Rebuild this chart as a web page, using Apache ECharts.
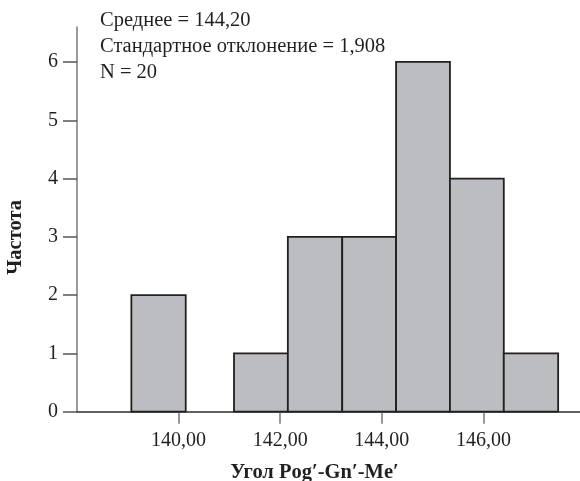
<!DOCTYPE html>
<html>
<head>
<meta charset="utf-8">
<script src="https://cdn.jsdelivr.net/npm/echarts@6/dist/echarts.min.js"></script>
<style>html,body{margin:0;padding:0;background:#fff}#c{width:580px;height:481px}</style>
</head>
<body>
<div id="c"></div>
<script>
// Histogram bins (left edge, right edge) and frequencies
const binStart = [139.07, 141.09, 142.15, 143.22, 144.28, 145.34, 146.40];
const binEnd   = [140.14, 142.15, 143.22, 144.28, 145.34, 146.40, 147.47];
const counts   = [2, 1, 3, 3, 6, 4, 1];
const xTicks   = [140, 142, 144, 146];
const statLines = ['Среднее = 144,20', 'Стандартное отклонение = 1,908', 'N = 20'];

const FONT = '"Liberation Serif", "DejaVu Serif", serif';
const chart = echarts.init(document.getElementById('c'), null, {renderer: 'canvas'});
const data = binStart.map((s, i) => [s, binEnd[i], counts[i]]);

chart.setOption({
  animation: false,
  backgroundColor: '#fff',
  grid: {left: 77, right: 0, top: 27, bottom: 69.3, containLabel: false, outerBoundsMode: 'none'},
  xAxis: {
    type: 'value', min: 138, max: 147.9,
    name: 'Угол Pog′-Gn′-Me′', nameLocation: 'middle', nameGap: 51,
    nameTextStyle: {fontFamily: FONT, fontSize: 20.5, fontWeight: 'bold', color: '#231f20', padding: [0, 28, 0, 0]},
    axisLine: {onZero: false, lineStyle: {color: '#2b2b2b', width: 1.5}},
    axisTick: {show: true, length: 12, customValues: xTicks, lineStyle: {color: '#777', width: 1.5}},
    axisLabel: {customValues: xTicks, margin: 19, fontFamily: FONT, fontSize: 20, color: '#231f20',
      formatter: v => v.toFixed(2).replace('.', ',')},
    splitLine: {show: false}
  },
  yAxis: {
    type: 'value', min: 0, max: 6.6, interval: 1,
    name: 'Частота', nameLocation: 'middle', nameGap: 51,
    nameTextStyle: {fontFamily: FONT, fontSize: 20.5, fontWeight: 'bold', color: '#231f20', padding: [0, 36, 0, 0]},
    axisLine: {show: true, lineStyle: {color: '#7a7a7a', width: 1.5}},
    axisTick: {show: true, length: 14, lineStyle: {color: '#555', width: 1.5}},
    axisLabel: {margin: 19, fontFamily: FONT, fontSize: 20, color: '#231f20', showMaxLabel: false,
      formatter: v => (v > 6 ? '' : String(v))},
    splitLine: {show: false}
  },
  series: [{
    type: 'custom',
    data: data,
    encode: {x: [0, 1], y: 2},
    renderItem: function (params, api) {
      const p0 = api.coord([api.value(0), api.value(2)]);
      const p1 = api.coord([api.value(1), 0]);
      return {
        type: 'rect',
        shape: {x: p0[0], y: p0[1], width: p1[0] - p0[0], height: p1[1] - p0[1]},
        style: {fill: '#bcbdc1', stroke: '#231f20', lineWidth: 1.8}
      };
    }
  }],
  graphic: statLines.map((t, i) => ({
    type: 'text', left: 100, top: 10 + i * 26,
    style: {text: t, fontFamily: FONT, fontSize: 20.5, fill: '#231f20'}
  }))
});
</script>
</body>
</html>
